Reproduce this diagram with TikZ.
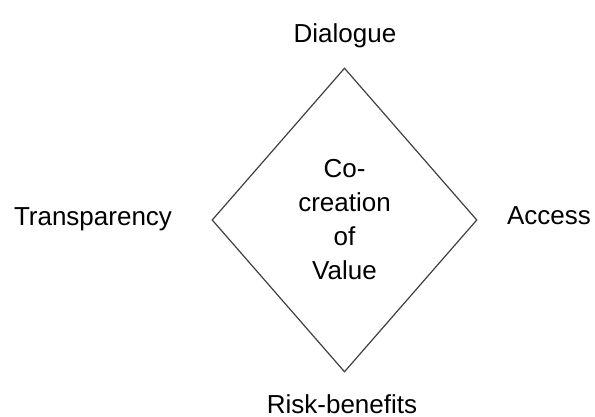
\documentclass[tikz,border=0pt]{standalone}
\usepackage{fontspec}
\setmainfont{Liberation Sans}
\usetikzlibrary{shapes.geometric}

\tikzset{
  label text/.style={font=\fontsize{13pt}{17pt}\selectfont, text=black, inner sep=0pt, anchor=base},
  value box/.style={shape=diamond, draw=black!75, line width=0.6pt, minimum width=132.5pt, minimum height=152pt, inner sep=0pt, align=center, font=\fontsize{13pt}{17pt}\selectfont}
}

\begin{document}
\begin{tikzpicture}[x=0.5pt,y=0.5pt]
\useasboundingbox (0,0) rectangle (595,417);
% centre of the diamond
\node[value box] (value) at (344.5,197) {Co-\\creation\\of\\Value};
% the four labels round it
\node[label text] (dialogue) at (345,374) {Dialogue};
\node[label text] (transparency) at (93,191) {Transparency};
\node[label text] (access) at (549,192) {Access};
\node[label text] (risk) at (342,3) {Risk-benefits};
\end{tikzpicture}
\end{document}
